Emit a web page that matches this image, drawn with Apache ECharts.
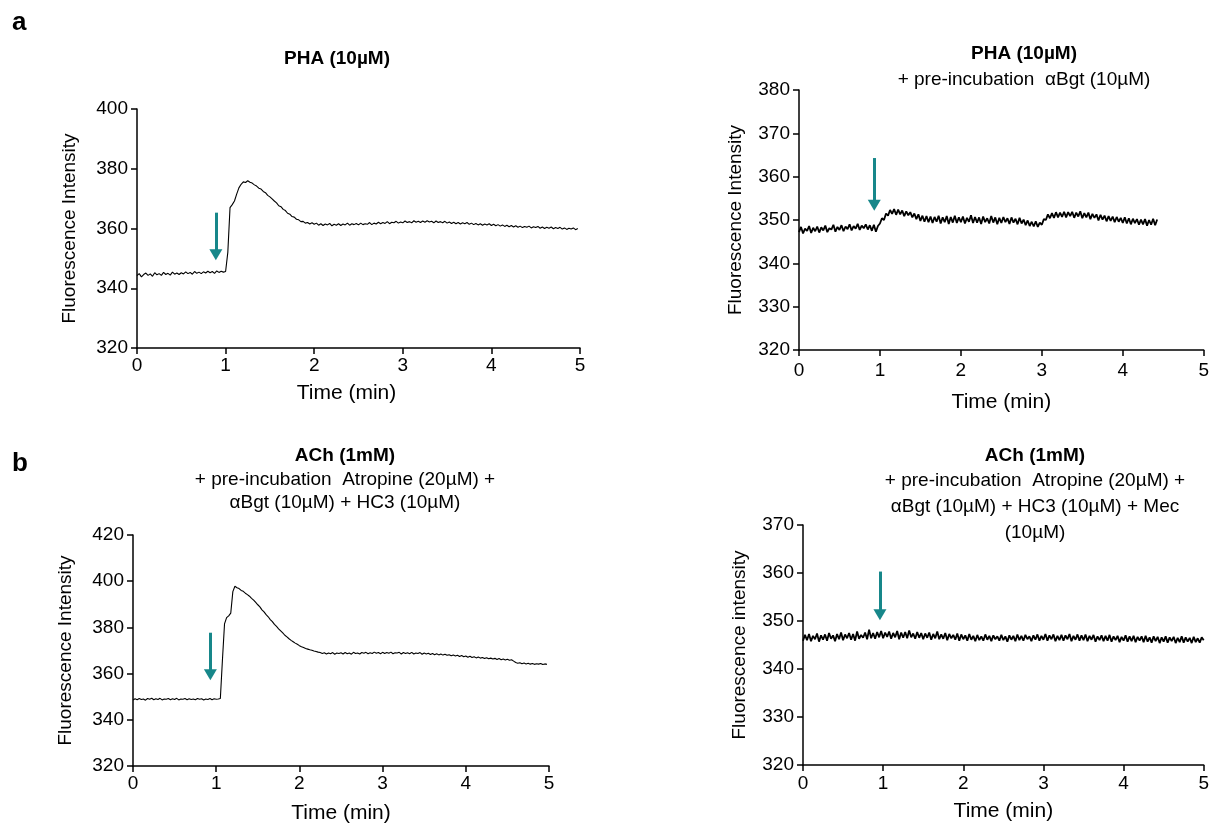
<!DOCTYPE html>
<html>
<head>
<meta charset="utf-8">
<script src="https://cdn.jsdelivr.net/npm/echarts@6/dist/echarts.min.js"></script>
<style>
html,body{margin:0;padding:0;background:#fff;}
#chart{width:1212px;height:825px;}
</style>
</head>
<body>
<div id="chart"></div>
<script>
// ---- data ----
const SAMPLE_STEP = 0.025; // minutes between samples
const xTicks = [0, 1, 2, 3, 4, 5];
const yRangeA = [320, 400, 20];
const yRangeB = [320, 380, 10];
const yRangeC = [320, 420, 20];
const yRangeD = [320, 370, 10];

// arrows: [time, from value, to value]
const arrowA = [0.89, 365.3, 351.2];
const arrowB = [0.93, 364.3, 353.4];
const arrowC = [0.93, 377.7, 359.5];
const arrowD = [0.96, 360.3, 351.3];

// Panel a, left: PHA (10µM)
const valuesA = [
344.2,344.9,343.8,344.6,345.1,344.3,344.8,344.0,345.2,344.5,
344.9,344.3,345.3,344.6,345.0,344.4,345.4,344.7,345.1,344.6,
345.2,344.8,345.5,344.9,345.3,344.7,345.6,345.0,345.4,344.9,
345.5,345.1,345.7,345.2,345.6,345.0,345.8,345.3,345.7,345.4,
345.6,352.0,367.0,368.0,369.2,371.5,373.6,374.8,375.6,375.4,
376.0,375.5,375.2,374.6,374.2,373.5,373.2,372.4,372.0,371.1,
370.6,369.9,369.2,368.6,367.6,367.3,366.4,366.0,365.1,364.8,
364.0,363.8,363.1,362.9,362.3,362.4,361.8,362.0,361.5,361.9,
361.4,361.8,361.1,361.6,361.0,361.5,361.2,361.7,360.9,361.4,
361.1,361.6,361.0,361.5,361.2,361.8,361.1,361.6,361.3,361.7,
361.2,361.8,361.3,361.6,361.4,362.0,361.3,361.8,361.5,362.1,
361.6,362.0,361.7,362.3,361.6,362.1,361.9,362.4,361.8,362.2,
361.9,362.5,362.0,362.3,361.9,362.6,362.1,362.4,362.0,362.5,
362.1,362.6,362.2,362.4,361.9,362.5,362.0,362.3,361.9,362.4,
361.8,362.2,361.7,362.1,361.6,362.0,361.5,361.9,361.6,362.0,
361.4,361.8,361.3,361.7,361.2,361.6,361.1,361.5,361.2,361.6,
361.0,361.4,360.9,361.3,360.8,361.2,360.7,361.1,360.6,361.0,
360.5,360.9,360.4,360.8,360.3,360.7,360.4,360.8,360.2,360.6,
360.3,360.7,360.1,360.5,360.0,360.4,360.1,360.5,359.9,360.3,
360.0,360.4,359.8,360.2,359.7,360.1,359.8,360.2,359.6,360.0
];

// Panel a, right: PHA (10µM) + pre-incubation αBgt
const valuesB = [
347.2,348.4,346.9,348.0,347.5,348.6,347.0,348.2,347.4,348.5,
347.1,348.3,347.6,348.7,347.2,348.1,347.8,348.9,347.3,348.4,
347.7,348.8,347.4,348.5,347.9,349.0,347.6,348.6,348.0,349.1,
347.7,348.7,348.1,349.0,347.8,348.8,347.5,348.9,347.3,348.6,
349.2,350.4,350.0,351.5,351.0,352.3,351.4,352.5,351.2,352.4,
351.3,352.2,350.9,352.0,351.1,351.8,350.6,351.5,350.2,351.3,
349.8,351.0,349.6,350.9,349.5,350.8,349.3,350.7,349.6,351.0,
349.2,350.6,349.5,350.9,349.1,350.7,349.4,351.0,349.3,350.6,
349.5,350.8,349.2,350.5,349.6,351.1,349.3,350.7,349.4,350.6,
349.1,350.8,349.5,350.4,349.2,350.9,349.4,350.6,349.0,350.5,
349.3,350.7,349.5,350.4,349.1,350.6,349.4,350.3,349.0,350.5,
349.2,350.1,348.8,349.9,348.6,349.6,348.5,349.7,348.4,349.4,
348.9,350.2,350.0,351.3,350.4,351.6,350.5,351.8,350.6,351.7,
350.7,351.9,350.6,351.8,350.9,351.9,350.5,351.7,350.8,352.0,
350.4,351.6,350.6,351.7,350.2,351.4,350.5,351.3,349.9,351.2,
350.1,351.0,349.7,350.9,349.8,350.8,349.5,350.7,349.6,350.5,
349.3,350.6,349.2,350.4,349.0,350.3,349.3,350.2,348.9,350.1,
349.0,350.2,348.7,350.0,348.9,350.3,348.8,350.1
];

// Panel b, left: ACh (1mM) + Atropine + αBgt + HC3
const valuesC = [
348.6,349.1,348.7,349.2,348.8,349.0,348.5,349.2,348.9,349.3,
348.7,349.1,348.8,349.3,348.6,349.0,348.9,349.2,348.7,349.1,
348.8,349.3,348.6,349.0,348.9,349.2,348.7,349.1,348.8,349.0,
348.7,349.2,348.9,349.1,348.6,349.0,348.8,349.2,348.7,349.1,
348.9,349.0,349.2,366.0,381.5,384.2,385.0,386.2,395.5,397.8,
397.2,396.8,396.0,395.6,394.8,394.2,393.5,392.6,391.8,390.8,
389.8,388.9,387.6,386.7,385.5,384.6,383.4,382.5,381.3,380.4,
379.4,378.5,377.6,376.6,375.9,375.1,374.4,373.8,373.2,372.7,
372.1,371.6,371.3,370.9,370.6,370.3,370.1,369.8,369.6,369.3,
369.1,368.7,369.0,368.5,368.9,368.6,369.1,368.4,368.9,368.7,
369.0,368.5,369.1,368.6,368.9,368.4,369.2,368.7,368.9,368.5,
369.1,368.8,369.2,368.6,369.0,368.7,369.3,368.8,369.1,368.6,
369.2,368.7,369.1,368.8,369.3,368.6,369.0,368.9,369.2,368.5,
369.1,368.7,369.0,368.6,369.2,368.5,368.9,368.7,369.1,368.4,
368.9,368.5,368.8,368.3,368.7,368.2,368.6,368.1,368.5,368.0,
368.4,367.9,368.2,367.7,368.1,367.6,367.9,367.4,367.8,367.3,
367.6,367.1,367.5,367.0,367.3,366.8,367.2,366.7,367.0,366.5,
366.9,366.4,366.7,366.3,366.6,366.1,366.5,366.0,366.3,365.9,
366.2,365.8,366.0,365.4,364.8,364.5,364.7,364.3,364.6,364.2,
364.5,364.1,364.4,364.0,364.3,364.1,364.4,363.9,364.2,364.0
];

// Panel b, right: ACh (1mM) + Atropine + αBgt + HC3 + Mec
const valuesD = [
345.9,347.1,346.0,347.3,345.8,346.9,346.2,347.4,345.7,347.0,
346.1,347.2,345.9,347.5,346.3,347.0,345.8,347.3,346.2,347.6,
346.0,347.2,346.4,347.5,346.1,347.3,345.9,347.8,346.3,347.1,
346.5,347.6,346.2,348.2,346.4,347.5,346.3,347.7,346.6,347.9,
346.4,347.6,346.7,347.8,346.3,347.5,346.6,347.9,346.2,347.6,
346.5,347.7,346.4,348.0,346.6,347.4,346.3,347.7,346.5,347.5,
346.2,347.4,346.5,347.6,346.1,347.3,346.4,347.8,346.2,347.2,
346.3,347.5,346.0,347.3,346.4,347.1,346.1,347.4,345.9,347.2,
346.2,347.0,345.9,347.3,346.1,346.9,345.8,347.1,346.0,346.8,
345.9,347.2,346.1,346.9,345.8,347.0,346.2,346.8,345.9,347.1,
346.0,346.8,345.7,347.0,346.1,346.9,345.8,347.2,346.0,346.9,
345.9,347.1,346.2,346.8,345.8,347.0,346.1,347.2,345.9,346.9,
346.1,347.3,345.9,347.0,346.2,347.2,345.8,346.9,346.0,347.1,
345.9,347.0,346.2,347.3,345.8,346.9,346.1,347.2,345.9,347.0,
346.0,347.2,345.8,346.9,346.1,347.1,345.7,346.8,346.0,347.0,
345.8,346.9,345.9,347.1,345.7,346.8,346.0,346.9,345.6,346.7,
345.9,347.0,345.7,346.8,345.8,346.9,345.6,346.7,345.9,346.8,
345.6,346.9,345.7,346.6,345.5,346.8,345.8,346.7,345.4,346.6,
345.7,346.8,345.5,346.6,345.8,346.7,345.4,346.5,345.6,346.8,
345.5,346.6,345.7,346.5,345.4,346.7,345.6,346.4,345.5,346.6,
346.0
];

// ---- rendering ----
const FONT = '"Liberation Sans", Arial, Helvetica, sans-serif';
const TEAL = '#17878a';
const TXT = '#000';

const panels = [
  {grid:{left:137, top:109, width:443, height:239}, y:yRangeA, values:valuesA, arrow:arrowA, yName:'Fluorescence Intensity', yGap:58, xGap:35, xPad:[0,24,0,0], xMargin:8, lw:1.1},
  {grid:{left:799, top:90, width:405, height:260}, y:yRangeB, values:valuesB, arrow:arrowB, yName:'Fluorescence Intensity', yGap:54, xGap:42, xPad:0, xMargin:11, lw:1.8},
  {grid:{left:133, top:535, width:416, height:234}, y:yRangeC, values:valuesC, arrow:arrowC, yName:'Fluorescence Intensity', yGap:58, xGap:37, xPad:0, xMargin:8, lw:1.1},
  {grid:{left:803, top:525, width:401, height:240}, y:yRangeD, values:valuesD, arrow:arrowD, yName:'Fluorescence intensity', yGap:54, xGap:36, xPad:0, xMargin:9, lw:1.8}
];

function toPoints(vals) {
  return vals.map((v, i) => [Math.round(i * SAMPLE_STEP * 1000) / 1000, v]);
}

const axisLine = {show:true, onZero:false, lineStyle:{color:'#000', width:1.5}};
const axisTick = {show:true, length:6, lineStyle:{color:'#000', width:1.5}};

const option = {
  animation:false,
  backgroundColor:'#fff',
  title:[
    {text:'a', left:12, top:10, padding:0, textStyle:{fontFamily:FONT, fontSize:26, fontWeight:'bold', color:TXT}},
    {text:'b', left:12, top:451, padding:0, textStyle:{fontFamily:FONT, fontSize:26, fontWeight:'bold', color:TXT}},
    {text:'PHA (10µM)', left:337, top:48, padding:0, textAlign:'center',
     textStyle:{fontFamily:FONT, fontSize:19, fontWeight:'bold', color:TXT, lineHeight:22}},
    {text:'PHA (10µM)', subtext:'+ pre-incubation  αBgt (10µM)', left:1024, top:43, padding:0, itemGap:3, textAlign:'center',
     textStyle:{fontFamily:FONT, fontSize:19, fontWeight:'bold', color:TXT, lineHeight:22},
     subtextStyle:{fontFamily:FONT, fontSize:19, color:TXT, lineHeight:24}},
    {text:'ACh (1mM)', subtext:'+ pre-incubation  Atropine (20µM) +\nαBgt (10µM) + HC3 (10µM)', left:345, top:445, padding:0, itemGap:1, textAlign:'center',
     textStyle:{fontFamily:FONT, fontSize:19, fontWeight:'bold', color:TXT, lineHeight:22},
     subtextStyle:{fontFamily:FONT, fontSize:19, color:TXT, lineHeight:23}},
    {text:'ACh (1mM)', subtext:'+ pre-incubation  Atropine (20µM) +\nαBgt (10µM) + HC3 (10µM) + Mec\n(10µM)', left:1035, top:445, padding:0, itemGap:1, textAlign:'center',
     textStyle:{fontFamily:FONT, fontSize:19, fontWeight:'bold', color:TXT, lineHeight:22},
     subtextStyle:{fontFamily:FONT, fontSize:19, color:TXT, lineHeight:26}}
  ],
  grid: panels.map(p => Object.assign({containLabel:false}, p.grid)),
  xAxis: panels.map((p, k) => ({
    type:'value', gridIndex:k, min:xTicks[0], max:xTicks[xTicks.length-1], interval:1,
    axisLine, axisTick, splitLine:{show:false},
    axisLabel:{fontFamily:FONT, fontSize:19, color:TXT, margin:p.xMargin},
    name:'Time (min)', nameLocation:'middle', nameGap:p.xGap,
    nameTextStyle:{fontFamily:FONT, fontSize:21, color:TXT, padding:p.xPad}
  })),
  yAxis: panels.map((p, k) => ({
    type:'value', gridIndex:k, min:p.y[0], max:p.y[1], interval:p.y[2],
    axisLine, axisTick, splitLine:{show:false},
    axisLabel:{fontFamily:FONT, fontSize:19, color:TXT, margin:9},
    name:p.yName, nameLocation:'middle', nameGap:p.yGap,
    nameTextStyle:{fontFamily:FONT, fontSize:19, color:TXT}
  })),
  series: panels.map((p, k) => ({
    type:'line', xAxisIndex:k, yAxisIndex:k, data:toPoints(p.values),
    showSymbol:false, symbol:'none', silent:true,
    lineStyle:{color:'#000', width:p.lw},
    emphasis:{disabled:true},
    markLine:{
      silent:true, animation:false,
      symbol:['none','triangle'], symbolSize:[13, 11],
      label:{show:false},
      lineStyle:{color:TEAL, width:3, type:'solid'},
      emphasis:{disabled:true},
      data:[[{coord:[p.arrow[0], p.arrow[1]]}, {coord:[p.arrow[0], p.arrow[2]]}]]
    }
  }))
};

const chart = echarts.init(document.getElementById('chart'), null, {renderer:'canvas'});
chart.setOption(option);
</script>
</body>
</html>
